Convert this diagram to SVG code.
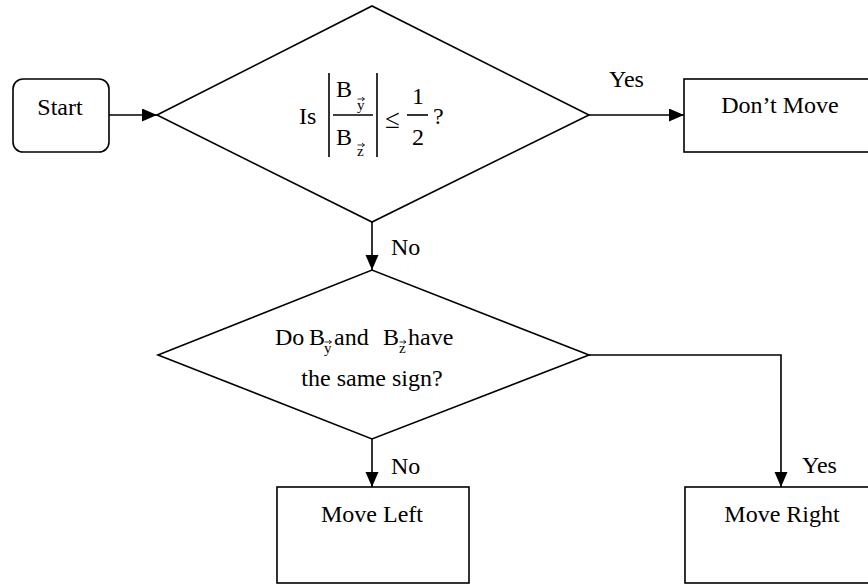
<svg xmlns="http://www.w3.org/2000/svg" width="868" height="584" viewBox="0 0 868 584">
  <style>
    .shape { fill: #fff; stroke: #000; stroke-width: 1.6; }
    .line { fill: none; stroke: #000; stroke-width: 1.6; }
    .vec { fill: none; stroke: #000; stroke-width: 0.8; }
    .t { font-family: "Liberation Serif", "Times New Roman", "DejaVu Serif", serif; font-size: 24px; fill: #000; }
    .sub { font-size: 15px; }
    .rel { font-size: 27px; }
    .mid { text-anchor: middle; }
  </style>
  <defs>
    <marker id="arrow" markerUnits="userSpaceOnUse" markerWidth="16" markerHeight="14" refX="15" refY="6.5" orient="auto">
      <path d="M0,0 L15,6.5 L0,13 Z" fill="#000"/>
    </marker>
  </defs>

  <rect width="868" height="584" fill="#fff"/>

  <!-- connectors -->
  <g id="connectors">
    <line class="line" x1="109" y1="115" x2="157" y2="115" marker-end="url(#arrow)"/>
    <line class="line" x1="589" y1="115" x2="684" y2="115" marker-end="url(#arrow)"/>
    <line class="line" x1="372" y1="222" x2="372" y2="270" marker-end="url(#arrow)"/>
    <line class="line" x1="372" y1="439" x2="372" y2="487" marker-end="url(#arrow)"/>
    <polyline class="line" points="589,355 781,355 781,487" marker-end="url(#arrow)"/>
    <text class="t" x="609" y="87">Yes</text>
    <text class="t" x="391" y="255">No</text>
    <text class="t" x="391" y="474">No</text>
    <text class="t" x="802" y="473">Yes</text>
  </g>

  <!-- start terminal -->
  <g id="start">
    <rect class="shape" x="13" y="79" width="96" height="73" rx="10" ry="10"/>
    <text class="t mid" x="60" y="115">Start</text>
  </g>

  <!-- first decision: ratio test -->
  <g id="decision-ratio">
    <polygon class="shape" points="157,115 372,6 589,115 372,222"/>
    <text class="t" x="299" y="124">Is</text>
    <line class="line" x1="329" y1="73" x2="329" y2="157"/>
    <line class="line" x1="377" y1="73" x2="377" y2="157"/>
    <text class="t" x="336" y="97">B</text>
    <text class="t sub" x="357" y="110">y</text>
    <path class="vec" d="M357.5,99 H364.5 M362,97.2 L364.5,99 L362,100.8"/>
    <line class="line" x1="333" y1="115" x2="373" y2="115"/>
    <text class="t" x="336" y="145">B</text>
    <text class="t sub" x="357" y="156">z</text>
    <path class="vec" d="M357.5,145 H364.5 M362,143.2 L364.5,145 L362,146.8"/>
    <text class="t rel" x="385" y="128">≤</text>
    <text class="t mid" x="418" y="104">1</text>
    <line class="line" x1="407" y1="115" x2="428" y2="115"/>
    <text class="t mid" x="418" y="145">2</text>
    <text class="t" x="433" y="124">?</text>
  </g>

  <!-- outcome: no movement -->
  <g id="dont-move">
    <rect class="shape" x="684" y="79" width="200" height="73"/>
    <text class="t mid" x="780" y="113">Don’t Move</text>
  </g>

  <!-- second decision: sign comparison -->
  <g id="decision-sign">
    <polygon class="shape" points="158,355 372,270 589,355 372,439"/>
    <text class="t" x="275" y="345">Do</text>
    <text class="t" x="309" y="345">B</text>
    <text class="t sub" x="324" y="353">y</text>
    <path class="vec" d="M324.5,342 H331.5 M329,340.2 L331.5,342 L329,343.8"/>
    <text class="t" x="334" y="345">and</text>
    <text class="t" x="383" y="345">B</text>
    <text class="t sub" x="399" y="353">z</text>
    <path class="vec" d="M399.5,342 H406 M403.5,340.2 L406,342 L403.5,343.8"/>
    <text class="t" x="408" y="345">have</text>
    <text class="t mid" x="372" y="386">the same sign?</text>
  </g>

  <!-- outcome: move left -->
  <g id="move-left">
    <rect class="shape" x="277" y="487" width="192" height="96"/>
    <text class="t mid" x="372" y="522">Move Left</text>
  </g>

  <!-- outcome: move right -->
  <g id="move-right">
    <rect class="shape" x="685" y="487" width="200" height="96"/>
    <text class="t mid" x="782" y="522">Move Right</text>
  </g>
</svg>
